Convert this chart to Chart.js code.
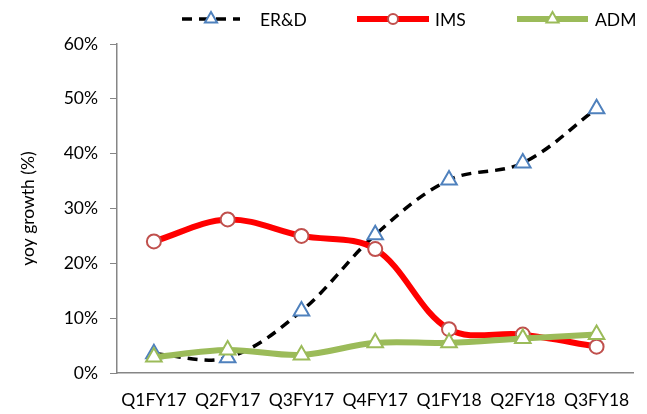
<!DOCTYPE html>
<html>
<head>
<meta charset="utf-8">
<script src="https://cdn.jsdelivr.net/npm/chart.js@4.4.1/dist/chart.umd.min.js"></script>
<style>
  html, body { margin: 0; padding: 0; background: #fff; }
  #wrap { width: 647px; height: 414px; }
</style>
</head>
<body>
<div id="wrap"><canvas id="growthChart"></canvas></div>
<script>
const quarters = ['Q1FY17', 'Q2FY17', 'Q3FY17', 'Q4FY17', 'Q1FY18', 'Q2FY18', 'Q3FY18'];
const erdGrowth = [3.5, 2.8, 11.3, 25.2, 35.2, 38.3, 48.2];
const imsGrowth = [24.0, 28.0, 25.0, 22.6, 8.0, 7.0, 4.8];
const admGrowth = [2.9, 4.2, 3.3, 5.5, 5.5, 6.3, 7.0];

const FONT = "'Lato', 'Liberation Sans', sans-serif";
const FONT_SIZE = 17.5;
const AXIS_GREY = '#868686';

// legend drawn by hand: line sample with the marker in the middle
const lineLegend = {
  id: 'lineLegend',
  afterDraw(chart) {
    const ctx = chart.ctx;
    const y = 19;
    const items = [
      { idx: 0, x0: 182, x1: 240, tx: 260 },
      { idx: 1, x0: 357, x1: 429, tx: 435 },
      { idx: 2, x0: 517, x1: 588, tx: 595 },
    ];
    items.forEach(it => {
      const ds = chart.data.datasets[it.idx];
      ctx.save();
      ctx.strokeStyle = ds.borderColor;
      ctx.lineWidth = ds.borderWidth;
      ctx.lineCap = 'butt';
      ctx.setLineDash(ds.borderDash || []);
      ctx.beginPath();
      ctx.moveTo(it.x0, y);
      ctx.lineTo(it.x1, y);
      ctx.stroke();
      ctx.setLineDash([]);
      ctx.fillStyle = ds.pointBackgroundColor;
      ctx.strokeStyle = ds.pointBorderColor;
      ctx.lineWidth = ds.pointBorderWidth;
      const mx = (it.x0 + it.x1) / 2;
      Chart.helpers.drawPoint(ctx, {
        pointStyle: ds.pointStyle,
        radius: ds.pointRadius - 2,
        borderWidth: ds.pointBorderWidth,
        rotation: 0,
      }, mx, y);
      ctx.fillStyle = '#000';
      ctx.font = FONT_SIZE + 'px ' + FONT;
      ctx.textBaseline = 'middle';
      ctx.fillText(ds.label, it.tx, y + 1);
      ctx.restore();
    });
  },
};

const ctx = document.getElementById('growthChart').getContext('2d');
new Chart(ctx, {
  type: 'line',
  data: {
    labels: quarters,
    datasets: [
      {
        label: 'ER&D',
        data: erdGrowth,
        order: 3,
        borderColor: '#000000',
        borderWidth: 3.5,
        borderDash: [10, 7],
        tension: 0.35,
        pointStyle: 'triangle',
        pointRadius: 9,
        pointBorderWidth: 2,
        pointBorderColor: '#4F81BD',
        pointBackgroundColor: '#ffffff',
      },
      {
        label: 'IMS',
        data: imsGrowth,
        order: 2,
        borderColor: '#FF0000',
        borderWidth: 6,
        tension: 0.35,
        pointStyle: 'circle',
        pointRadius: 7,
        pointBorderWidth: 2,
        pointBorderColor: '#C0504D',
        pointBackgroundColor: '#ffffff',
      },
      {
        label: 'ADM',
        data: admGrowth,
        order: 1,
        borderColor: '#9BBB59',
        borderWidth: 6,
        tension: 0.35,
        pointStyle: 'triangle',
        pointRadius: 9,
        pointBorderWidth: 2,
        pointBorderColor: '#9BBB59',
        pointBackgroundColor: '#ffffff',
      },
    ],
  },
  options: {
    responsive: true,
    maintainAspectRatio: false,
    animation: false,
    layout: { padding: { top: 44, right: 11, left: 18, bottom: 0 } },
    plugins: {
      legend: { display: false },
      tooltip: { enabled: false },
    },
    scales: {
      x: {
        offset: true,
        grid: { display: true, drawOnChartArea: false, drawTicks: false },
        border: { color: AXIS_GREY, width: 1.5 },
        ticks: {
          color: '#000',
          padding: 17,
          maxRotation: 0,
          autoSkip: false,
          font: { size: FONT_SIZE, family: FONT },
        },
        afterFit: scale => { scale.height = 41; },
      },
      y: {
        min: 0,
        max: 60,
        grid: { display: true, drawOnChartArea: false, drawTicks: true, tickLength: 7, color: AXIS_GREY },
        border: { color: AXIS_GREY, width: 1.5 },
        ticks: {
          stepSize: 10,
          color: '#000',
          padding: 12,
          font: { size: FONT_SIZE, family: FONT },
          callback: v => v + '%',
        },
        title: {
          display: true,
          text: 'yoy growth (%)',
          color: '#000',
          font: { size: FONT_SIZE, family: FONT },
          padding: { top: 0, bottom: 0 },
        },
        afterFit: scale => { scale.width = 99; },
      },
    },
  },
  plugins: [lineLegend],
});
</script>
</body>
</html>
